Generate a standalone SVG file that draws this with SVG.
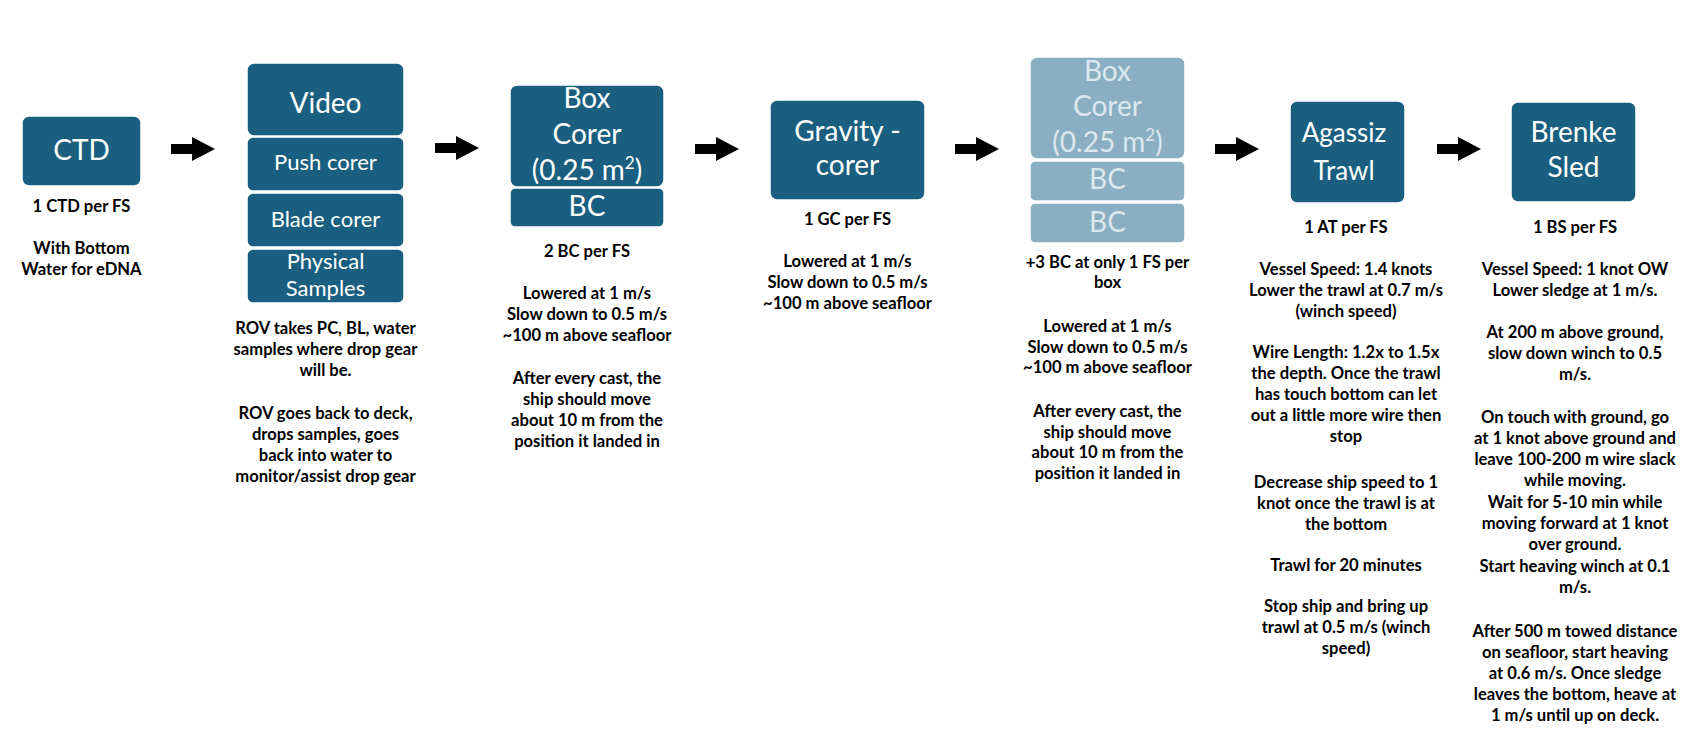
<svg xmlns="http://www.w3.org/2000/svg" xmlns:xlink="http://www.w3.org/1999/xlink" width="1693" height="742" viewBox="0 0 1693 742">
<style>
.bx{fill:#1a5f80;stroke:#ffffff;stroke-width:1.5}
.lb{fill:#8aafc2;stroke:#ffffff;stroke-width:1.5}
.t1{font-family:"Lato","Liberation Sans",sans-serif;fill:#ffffff;text-anchor:middle;font-size:28px}
.t2{font-family:"Lato","Liberation Sans",sans-serif;fill:#ffffff;text-anchor:middle;font-size:22px}
.tl{font-family:"Lato","Liberation Sans",sans-serif;fill:#dce8ef;text-anchor:middle;font-size:28px}
.n{font-family:"Lato","Liberation Sans",sans-serif;font-weight:bold;fill:#000000;text-anchor:middle;font-size:16.6px}
.arr{fill:#000000}
</style>
<defs>
<path id="arrow" d="M0,-5 H21 V-12 L44,0 L21,12 V5 H0 Z"/>
</defs>
<rect width="1693" height="742" fill="#ffffff"/>

<g id="connectors" class="arr">
<use xlink:href="#arrow" x="171" y="149"/>
<use xlink:href="#arrow" x="435" y="148"/>
<use xlink:href="#arrow" x="695" y="149"/>
<use xlink:href="#arrow" x="955" y="149"/>
<use xlink:href="#arrow" x="1215" y="149"/>
<use xlink:href="#arrow" x="1437" y="149"/>
</g>

<g id="ctd">
<rect class="bx" x="22" y="116" width="119" height="70" rx="7"/>
<text class="t1" x="81.5" y="160">CTD</text>
<text class="n" x="81.5" y="212">1 CTD per FS</text>
<text class="n" x="81.5" y="254">With Bottom</text>
<text class="n" x="81.5" y="275">Water for eDNA</text>
</g>

<g id="video">
<rect class="bx" x="247" y="63" width="157" height="73" rx="7"/>
<text class="t1" x="325.5" y="113">Video</text>
<rect class="bx" x="247" y="137" width="157" height="54" rx="6"/>
<text class="t2" x="325.5" y="170">Push corer</text>
<rect class="bx" x="247" y="193" width="157" height="54" rx="6"/>
<text class="t2" x="325.5" y="227">Blade corer</text>
<rect class="bx" x="247" y="249" width="157" height="54" rx="6"/>
<text class="t2" x="325.5" y="269">Physical</text>
<text class="t2" x="325.5" y="296">Samples</text>
<text class="n" x="325.5" y="334">ROV takes PC, BL, water</text>
<text class="n" x="325.5" y="355">samples where drop gear</text>
<text class="n" x="325.5" y="376">will be.</text>
<text class="n" x="325.5" y="419">ROV goes back to deck,</text>
<text class="n" x="325.5" y="440">drops samples, goes</text>
<text class="n" x="325.5" y="461">back into water to</text>
<text class="n" x="325.5" y="482">monitor/assist drop gear</text>
</g>

<g id="box-corer">
<rect class="bx" x="510" y="85" width="154" height="102" rx="7"/>
<text class="t1" x="587" y="108">Box</text>
<text class="t1" x="587" y="144">Corer</text>
<text class="t1" x="587" y="180">(0.25 m<tspan font-size="17" dy="-11">2</tspan><tspan dy="11">)</tspan></text>
<rect class="bx" x="510" y="188" width="154" height="39" rx="5"/>
<text class="t1" x="587" y="216">BC</text>
<text class="n" x="587" y="257">2 BC per FS</text>
<text class="n" x="587" y="299">Lowered at 1 m/s</text>
<text class="n" x="587" y="320">Slow down to 0.5 m/s</text>
<text class="n" x="587" y="341">~100 m above seafloor</text>
<text class="n" x="587" y="384">After every cast, the</text>
<text class="n" x="587" y="405">ship should move</text>
<text class="n" x="587" y="426">about 10 m from the</text>
<text class="n" x="587" y="447">position it landed in</text>
</g>

<g id="gravity-corer">
<rect class="bx" x="770" y="100" width="155" height="100" rx="7"/>
<text class="t1" x="847.5" y="141">Gravity -</text>
<text class="t1" x="847.5" y="175">corer</text>
<text class="n" x="847.5" y="225">1 GC per FS</text>
<text class="n" x="847.5" y="267">Lowered at 1 m/s</text>
<text class="n" x="847.5" y="288">Slow down to 0.5 m/s</text>
<text class="n" x="847.5" y="309">~100 m above seafloor</text>
</g>

<g id="extra-box-corer">
<rect class="lb" x="1030" y="57" width="155" height="102" rx="7"/>
<text class="tl" x="1107.5" y="81">Box</text>
<text class="tl" x="1107.5" y="116">Corer</text>
<text class="tl" x="1107.5" y="152">(0.25 m<tspan font-size="17" dy="-11">2</tspan><tspan dy="11">)</tspan></text>
<rect class="lb" x="1030" y="161" width="155" height="40" rx="5"/>
<text class="tl" x="1107.5" y="189">BC</text>
<rect class="lb" x="1030" y="203" width="155" height="40" rx="5"/>
<text class="tl" x="1107.5" y="232">BC</text>
<text class="n" x="1107.5" y="268">+3 BC at only 1 FS per</text>
<text class="n" x="1107.5" y="288">box</text>
<text class="n" x="1107.5" y="332">Lowered at 1 m/s</text>
<text class="n" x="1107.5" y="353">Slow down to 0.5 m/s</text>
<text class="n" x="1107.5" y="373">~100 m above seafloor</text>
<text class="n" x="1107.5" y="417">After every cast, the</text>
<text class="n" x="1107.5" y="438">ship should move</text>
<text class="n" x="1107.5" y="458">about 10 m from the</text>
<text class="n" x="1107.5" y="479">position it landed in</text>
</g>

<g id="agassiz-trawl">
<rect class="bx" x="1290" y="101" width="115" height="102" rx="7"/>
<text class="t1" x="1344" y="142" style="font-size:26px">Agassiz</text>
<text class="t1" x="1344" y="180" style="font-size:26px">Trawl</text>
<text class="n" x="1346" y="233">1 AT per FS</text>
<text class="n" x="1346" y="275">Vessel Speed: 1.4 knots</text>
<text class="n" x="1346" y="296">Lower the trawl at 0.7 m/s</text>
<text class="n" x="1346" y="317">(winch speed)</text>
<text class="n" x="1346" y="358">Wire Length: 1.2x to 1.5x</text>
<text class="n" x="1346" y="379">the depth. Once the trawl</text>
<text class="n" x="1346" y="400">has touch bottom can let</text>
<text class="n" x="1346" y="421">out a little more wire then</text>
<text class="n" x="1346" y="442">stop</text>
<text class="n" x="1346" y="488">Decrease ship speed to 1</text>
<text class="n" x="1346" y="509">knot once the trawl is at</text>
<text class="n" x="1346" y="530">the bottom</text>
<text class="n" x="1346" y="571">Trawl for 20 minutes</text>
<text class="n" x="1346" y="612">Stop ship and bring up</text>
<text class="n" x="1346" y="633">trawl at 0.5 m/s (winch</text>
<text class="n" x="1346" y="654">speed)</text>
</g>

<g id="brenke-sled">
<rect class="bx" x="1511" y="102" width="125" height="100" rx="7"/>
<text class="t1" x="1573.5" y="142">Brenke</text>
<text class="t1" x="1573.5" y="177">Sled</text>
<text class="n" x="1575" y="233">1 BS per FS</text>
<text class="n" x="1575" y="275">Vessel Speed: 1 knot OW</text>
<text class="n" x="1575" y="296">Lower sledge at 1 m/s.</text>
<text class="n" x="1575" y="338">At 200 m above ground,</text>
<text class="n" x="1575" y="359">slow down winch to 0.5</text>
<text class="n" x="1575" y="380">m/s.</text>
<text class="n" x="1575" y="423">On touch with ground, go</text>
<text class="n" x="1575" y="444">at 1 knot above ground and</text>
<text class="n" x="1575" y="465">leave 100-200 m wire slack</text>
<text class="n" x="1575" y="486">while moving.</text>
<text class="n" x="1575" y="508">Wait for 5-10 min while</text>
<text class="n" x="1575" y="529">moving forward at 1 knot</text>
<text class="n" x="1575" y="550">over ground.</text>
<text class="n" x="1575" y="572">Start heaving winch at 0.1</text>
<text class="n" x="1575" y="593">m/s.</text>
<text class="n" x="1575" y="637">After 500 m towed distance</text>
<text class="n" x="1575" y="658">on seafloor, start heaving</text>
<text class="n" x="1575" y="679">at 0.6 m/s. Once sledge</text>
<text class="n" x="1575" y="700">leaves the bottom, heave at</text>
<text class="n" x="1575" y="721">1 m/s until up on deck.</text>
</g>
</svg>
